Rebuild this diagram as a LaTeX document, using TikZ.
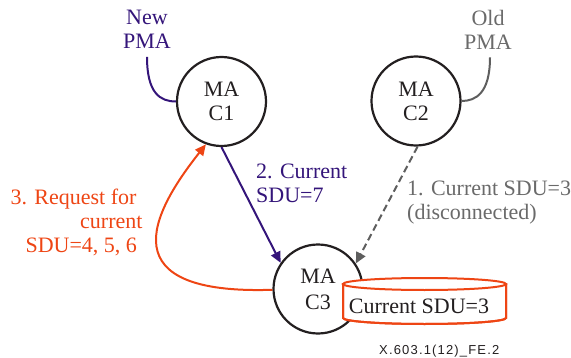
\documentclass[tikz,border=0pt]{standalone}
\usepackage{fontspec}
\setmainfont{Liberation Serif}
\newfontfamily\footfont[LetterSpace=9]{Liberation Sans}
\usetikzlibrary{arrows.meta}
\definecolor{purp}{HTML}{34157A}
\definecolor{orng}{HTML}{EE4514}
\definecolor{gtxt}{HTML}{6A6A6A}
\definecolor{gline}{HTML}{5E5E5E}
\definecolor{ink}{HTML}{231F20}
\tikzset{
  macirc/.style={circle,draw=ink,line width=2.2pt,minimum size=89pt,inner sep=0pt,
    align=center,font=\fontsize{22}{24}\selectfont,text=ink},
  lbl/.style={inner sep=0pt,font=\fontsize{22}{24}\selectfont},
  conn/.style={line width=2pt},
  tipa/.style={-{Triangle[length=11pt,width=10pt]}},
  cyl/.style={draw=orng,line width=2pt,fill=white}
}
\begin{document}
\begin{tikzpicture}[x=1pt,y=1pt]
\useasboundingbox (0,0) rectangle (571,357);
% circles
\node[macirc] (c1) at (221.5,255.5) {MA\\C1};
\node[macirc] (c2) at (416,256) {MA\\C2};
\node[macirc,font=\fontsize{22}{26}\selectfont] (c3) at (318,68) {MA\\C3};
% cylinder
\path[cyl] (343,73) -- (343,39) arc[start angle=180,end angle=360,x radius=81.5,y radius=6] -- (506,73) -- cycle;
\draw[draw=orng,line width=2pt] (343,73) -- (343,39) arc[start angle=180,end angle=360,x radius=81.5,y radius=6] -- (506,73);
\draw[cyl] (424.5,73) ellipse[x radius=81.5,y radius=6];
\node[lbl,anchor=base,text=ink] (sdu) at (419,44) {Current SDU=3};
% PMA labels
\node[lbl,align=center,text=purp] (newpma) at (147,327.5) {New\\PMA};
\node[lbl,align=center,text=gtxt] (oldpma) at (488,327.5) {Old\\PMA};
\draw[conn,purp] ([yshift=-8pt]newpma.south) .. controls +(0,-36) and +(-16,0) .. (c1.west);
\draw[conn,gline] ([xshift=2pt,yshift=-8pt]oldpma.south) .. controls +(0,-36) and +(14,0) .. (c2.east);
% message labels
\node[lbl,align=left,anchor=west,text=purp] (m2) at (256,174) {2. Current\\SDU=7};
\node[lbl,align=left,anchor=north west,text=gtxt] (m1) at (407,176.5) {1. Current SDU=3\\(disconnected)};
\node[lbl,align=right,anchor=north east,text=orng] (m3) at (142.7,168) {3. Request for\hspace*{6pt}\\current\\SDU=4, 5, 6\hspace*{5.5pt}};
% arrows
\draw[conn,purp,tipa] (c1.south) -- (c3.145);
\draw[conn,gline,tipa,dash pattern=on 7pt off 4pt] (c2.-88) -- (c3.34);
\draw[conn,orng,tipa] (c3.181) .. controls (110,62) and (150,142) .. (c1.250);
% footer
\node[inner sep=0pt,anchor=base west,font=\footfont\fontsize{13}{15}\selectfont,text=ink] (fig) at (379,3) {X.603.1(12)\_FE.2};
\end{tikzpicture}
\end{document}
